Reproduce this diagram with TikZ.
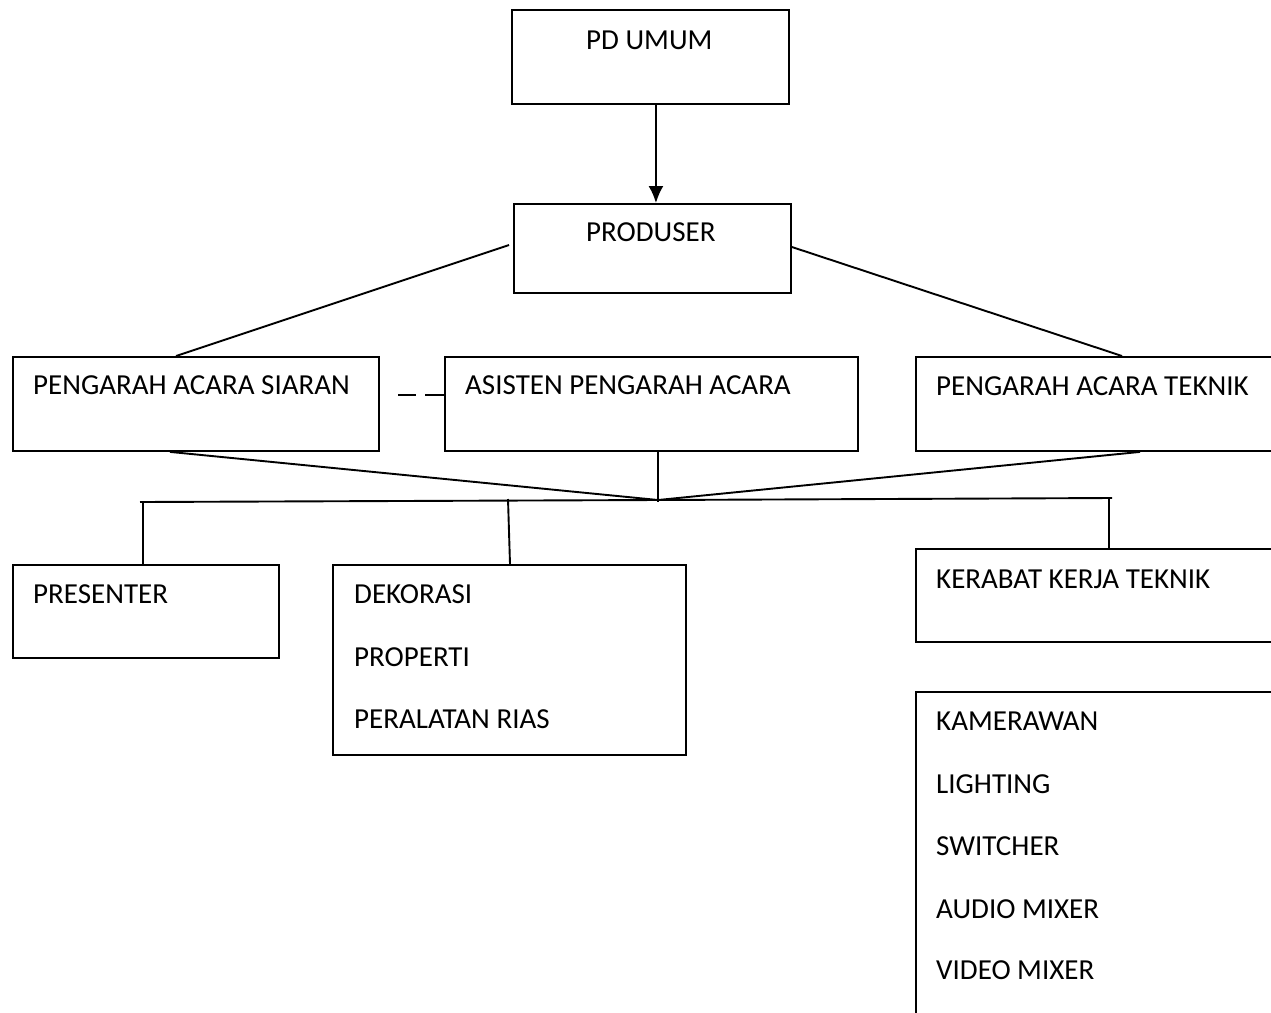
\documentclass[tikz,border=0pt]{standalone}
\usepackage{fontspec}
\setmainfont{Carlito}
\usetikzlibrary{arrows.meta}
\begin{document}
\begin{tikzpicture}[x=1pt,y=-1pt,
  box/.style={draw,line width=1.9pt,inner sep=0pt,anchor=north west},
  lbl/.style={anchor=base west,inner sep=0pt,font=\fontsize{29}{34}\selectfont},
  conn/.style={line width=1.9pt}]
\useasboundingbox (0,0) rectangle (1271,1012);
\clip (0,0) rectangle (1271,1012);
% boxes
\node[box,minimum width=277pt,minimum height=94pt] (pd) at (511,9) {};
\node[box,minimum width=277pt,minimum height=89pt] (prod) at (513,203) {};
\node[box,minimum width=366pt,minimum height=94pt] (pas) at (12,356) {};
\node[box,minimum width=413pt,minimum height=94pt] (asis) at (444,356) {};
\node[box,minimum width=400pt,minimum height=94pt] (pat) at (915,356) {};
\node[box,minimum width=266pt,minimum height=93pt] (pres) at (12,564) {};
\node[box,minimum width=353pt,minimum height=190pt] (dek) at (332,564) {};
\node[box,minimum width=400pt,minimum height=93pt] (kkt) at (915,548) {};
\node[box,minimum width=400pt,minimum height=400pt] (kam) at (915,691) {};
% texts
\node[lbl] (tpd) at (586,49) {PD UMUM};
\node[lbl] (tprod) at (586,241) {PRODUSER};
\node[lbl] (tpas) at (33,394) {PENGARAH ACARA SIARAN};
\node[lbl] (tasis) at (465,394) {ASISTEN PENGARAH ACARA};
\node[lbl] (tpat) at (936,395) {PENGARAH ACARA TEKNIK};
\node[lbl] (tpres) at (33,603) {PRESENTER};
\node[lbl] (td1) at (354,603) {DEKORASI};
\node[lbl] (td2) at (354,666) {PROPERTI};
\node[lbl] (td3) at (354,728) {PERALATAN RIAS};
\node[lbl] (tkkt) at (936,588) {KERABAT KERJA TEKNIK};
\node[lbl] (tk1) at (936,730) {KAMERAWAN};
\node[lbl] (tk2) at (936,793) {LIGHTING};
\node[lbl] (tk3) at (936,855) {SWITCHER};
\node[lbl] (tk4) at (936,918) {AUDIO MIXER};
\node[lbl] (tk5) at (936,979) {VIDEO MIXER};
% connectors
\draw[conn,-{Latex[length=17pt,width=15pt]}] ([xshift=5.5pt]pd.south) -- ([xshift=3.5pt]prod.north);
\draw[conn] ([yshift=-42pt]prod.north west) ++(-4,0) coordinate (pl) -- ([xshift=164pt]pas.north west);
\draw[conn] ([yshift=-44pt]prod.north east) -- ([xshift=207pt]pat.north west);
\draw[conn] (398,395) coordinate (d1) -- (416,395);
\draw[conn] (425,395) coordinate (d2) -- (asis.west |- d2);
\coordinate (J) at (658,500);
\draw[conn] ([xshift=158pt]pas.south west) -- (J);
\draw[conn] ([xshift=225pt]pat.south west) -- (J);
\draw[conn] (asis.south -| J) -- ([yshift=-2pt]J);
\coordinate (bl) at (140,502);
\coordinate (br) at (1112,498);
\draw[conn] (bl) -- (J) -- (br);
\draw[conn] (143,502) -- ([xshift=131pt]pres.north west);
\draw[conn] (508,499) -- ([xshift=178pt]dek.north west);
\draw[conn] (1109,499) -- ([xshift=194pt]kkt.north west);
\end{tikzpicture}
\end{document}
